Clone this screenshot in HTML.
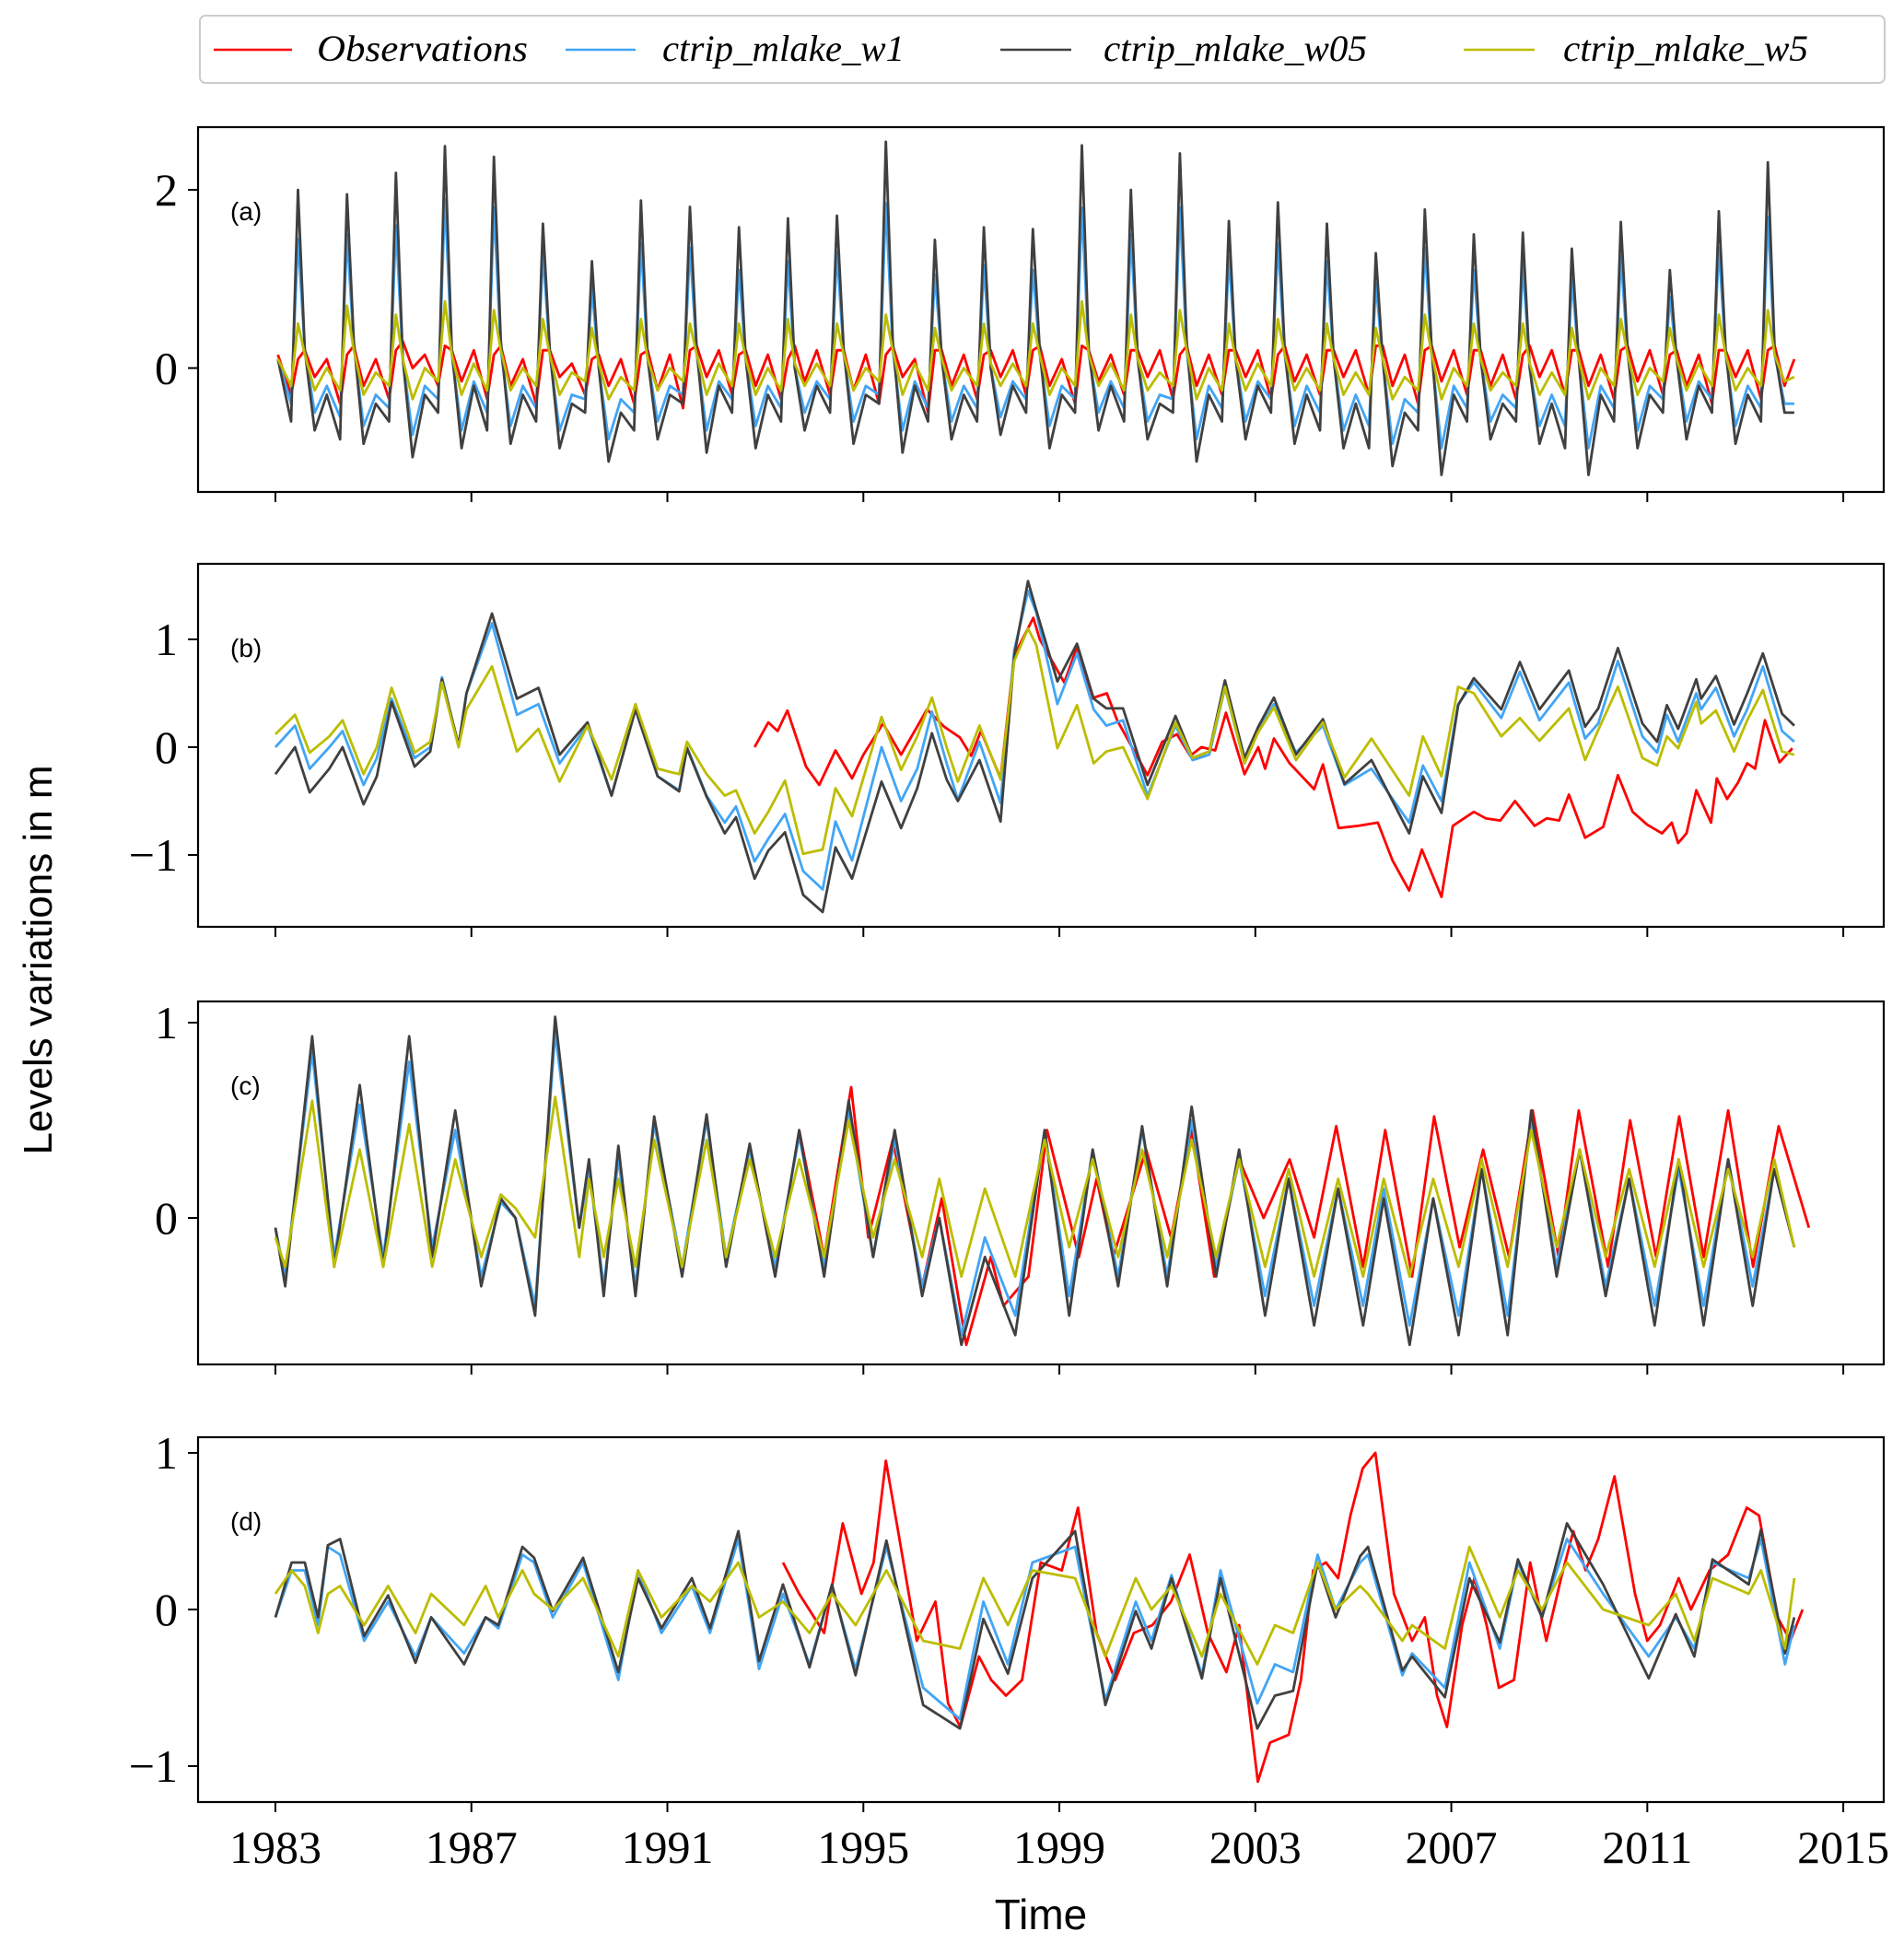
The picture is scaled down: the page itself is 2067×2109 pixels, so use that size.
<!DOCTYPE html>
<html><head><meta charset="utf-8"><style>
html,body{margin:0;padding:0;background:#fff}
svg{display:block}
.tk{font-family:"Liberation Serif",serif;font-size:50px;fill:#000}
.lg{font-family:"Liberation Serif",serif;font-style:italic;font-size:40px;fill:#000}
</style></head><body>
<svg id="chart" width="2067" height="2109" viewBox="0 0 2067 2109" xmlns="http://www.w3.org/2000/svg">
<rect x="0" y="0" width="2067" height="2109" fill="#fff"/>
<g id="legend">
<rect x="217" y="17" width="1829" height="73" rx="6" fill="#fff" stroke="#cccccc" stroke-width="2"/>
<g><line x1="232" y1="54" x2="317" y2="54" stroke="#ff0000" stroke-width="2.6"/><text class="lg" x="344" y="66" textLength="229" lengthAdjust="spacingAndGlyphs">Observations</text></g>
<g><line x1="614" y1="54" x2="690" y2="54" stroke="#42a5f5" stroke-width="2.6"/><text class="lg" x="719" y="66" textLength="263" lengthAdjust="spacingAndGlyphs">ctrip_mlake_w1</text></g>
<g><line x1="1086" y1="54" x2="1163" y2="54" stroke="#404040" stroke-width="2.6"/><text class="lg" x="1198" y="66" textLength="286" lengthAdjust="spacingAndGlyphs">ctrip_mlake_w05</text></g>
<g><line x1="1589" y1="54" x2="1666" y2="54" stroke="#bcbd00" stroke-width="2.6"/><text class="lg" x="1697" y="66" textLength="266" lengthAdjust="spacingAndGlyphs">ctrip_mlake_w5</text></g>
</g>
<text x="0" y="0" transform="translate(56,1042) rotate(-90)" text-anchor="middle" font-family="Liberation Sans, sans-serif" font-size="44">Levels variations in m</text>
<text x="1130" y="2094" text-anchor="middle" font-family="Liberation Sans, sans-serif" font-size="46">Time</text>
<g id="panels"></g>
</svg>
<script>
// ---------- shared axis ----------
const xTickYears = [1983,1987,1991,1995,1999,2003,2007,2011,2015];
const panelLabels = ["(a)","(b)","(c)","(d)"];

// ---------- panel (a) ----------
const aYears = [1983,1984,1985,1986,1987,1988,1989,1990,1991,1992,1993,1994,1995,1996,1997,1998,1999,2000,2001,2002,2003,2004,2005,2006,2007,2008,2009,2010,2011,2012,2013];
const aOffsets = [0.05,0.32,0.46,0.6,0.8];
const aEndT = 2014.0;
const aW05 = [0.1,-0.6,2.0,0.2,-0.7, -0.3,-0.8,1.95,0.3,-0.85, -0.4,-0.6,2.19,0.1,-1.0, -0.3,-0.5,2.49,0.2,-0.9, -0.2,-0.7,2.37,0.3,-0.85, -0.3,-0.6,1.62,0.2,-0.9, -0.4,-0.5,1.2,0.0,-1.05, -0.5,-0.7,1.88,0.1,-0.8, -0.3,-0.4,1.81,0.2,-0.95, -0.2,-0.5,1.58,0.1,-0.9, -0.3,-0.6,1.68,0.0,-0.7, -0.2,-0.5,1.71,0.2,-0.85, -0.3,-0.4,2.54,0.3,-0.95, -0.2,-0.6,1.44,0.1,-0.8, -0.3,-0.6,1.58,0.0,-0.75, -0.2,-0.5,1.56,0.2,-0.9, -0.3,-0.5,2.5,0.2,-0.7, -0.2,-0.6,2.0,0.1,-0.8, -0.4,-0.5,2.41,0.3,-1.05, -0.3,-0.6,1.65,0.1,-0.8, -0.2,-0.5,1.86,0.2,-0.85, -0.3,-0.7,1.62,0.1,-0.9, -0.4,-0.9,1.29,0.1,-1.1, -0.5,-0.7,1.78,0.2,-1.2, -0.3,-0.6,1.5,0.1,-0.8, -0.4,-0.6,1.52,0.0,-0.85, -0.4,-0.9,1.34,0.1,-1.2, -0.3,-0.6,1.64,0.2,-0.9, -0.3,-0.5,1.1,0.1,-0.8, -0.2,-0.5,1.76,0.2,-0.85, -0.3,-0.6,2.31,0.2,-0.5, -0.5];
const aW1 = [0.1,-0.4,1.45,0.2,-0.5, -0.2,-0.55,1.5,0.25,-0.65, -0.3,-0.45,1.6,0.1,-0.75, -0.2,-0.35,1.9,0.15,-0.7, -0.15,-0.5,1.8,0.2,-0.65, -0.2,-0.45,1.3,0.15,-0.7, -0.3,-0.35,0.9,0.0,-0.8, -0.35,-0.5,1.4,0.1,-0.6, -0.2,-0.3,1.35,0.15,-0.7, -0.15,-0.35,1.1,0.1,-0.65, -0.2,-0.45,1.2,0.0,-0.5, -0.15,-0.35,1.3,0.15,-0.6, -0.2,-0.3,1.85,0.2,-0.7, -0.15,-0.45,1.05,0.1,-0.6, -0.2,-0.45,1.15,0.0,-0.55, -0.15,-0.35,1.1,0.15,-0.65, -0.2,-0.35,1.8,0.15,-0.5, -0.15,-0.45,1.5,0.1,-0.6, -0.3,-0.35,1.8,0.2,-0.8, -0.2,-0.45,1.25,0.1,-0.6, -0.15,-0.35,1.4,0.15,-0.65, -0.2,-0.5,1.2,0.1,-0.7, -0.3,-0.65,0.95,0.1,-0.85, -0.35,-0.5,1.35,0.15,-0.9, -0.2,-0.45,1.1,0.1,-0.6, -0.3,-0.45,1.15,0.0,-0.65, -0.3,-0.65,1.0,0.1,-0.9, -0.2,-0.45,1.25,0.15,-0.7, -0.2,-0.35,0.8,0.1,-0.6, -0.15,-0.35,1.35,0.15,-0.65, -0.2,-0.45,1.7,0.15,-0.4, -0.4];
const aW5 = [0.1,-0.2,0.5,0.15,-0.25, 0.0,-0.25,0.7,0.2,-0.3, -0.05,-0.2,0.6,0.1,-0.35, 0.0,-0.15,0.75,0.15,-0.3, 0.05,-0.25,0.65,0.2,-0.25, 0.0,-0.2,0.55,0.15,-0.3, -0.05,-0.15,0.45,0.05,-0.35, -0.1,-0.25,0.55,0.1,-0.25, 0.0,-0.15,0.5,0.15,-0.3, 0.05,-0.2,0.5,0.1,-0.3, 0.0,-0.25,0.55,0.05,-0.2, 0.05,-0.2,0.5,0.15,-0.25, 0.0,-0.15,0.6,0.2,-0.3, 0.05,-0.25,0.45,0.1,-0.25, 0.0,-0.2,0.5,0.05,-0.2, 0.05,-0.2,0.5,0.15,-0.3, 0.0,-0.2,0.75,0.15,-0.2, 0.05,-0.25,0.6,0.1,-0.25, -0.05,-0.2,0.65,0.2,-0.35, 0.0,-0.25,0.5,0.1,-0.25, 0.05,-0.2,0.55,0.15,-0.25, 0.0,-0.25,0.5,0.1,-0.3, -0.05,-0.3,0.45,0.1,-0.35, -0.1,-0.25,0.6,0.15,-0.35, 0.0,-0.2,0.5,0.1,-0.25, -0.05,-0.2,0.5,0.05,-0.3, -0.05,-0.3,0.45,0.1,-0.35, 0.0,-0.2,0.55,0.15,-0.3, 0.0,-0.15,0.45,0.1,-0.25, 0.05,-0.2,0.6,0.15,-0.25, 0.0,-0.2,0.65,0.15,-0.15, -0.1];
const aObs = [0.15,-0.3,0.1,0.2,-0.1, 0.1,-0.4,0.15,0.25,-0.2, 0.1,-0.35,0.2,0.3,0.0, 0.15,-0.2,0.25,0.2,-0.15, 0.2,-0.35,0.15,0.25,-0.2, 0.1,-0.4,0.2,0.2,-0.1, 0.05,-0.3,0.1,0.15,-0.2, 0.1,-0.4,0.15,0.2,-0.25, 0.15,-0.45,0.2,0.25,-0.1, 0.2,-0.3,0.15,0.2,-0.2, 0.15,-0.35,0.1,0.25,-0.15, 0.2,-0.3,0.2,0.2,-0.25, 0.15,-0.4,0.15,0.25,-0.1, 0.1,-0.5,0.2,0.2,-0.2, 0.15,-0.35,0.15,0.2,-0.1, 0.2,-0.3,0.2,0.25,-0.2, 0.1,-0.4,0.25,0.2,-0.15, 0.15,-0.3,0.2,0.2,-0.1, 0.2,-0.35,0.15,0.25,-0.2, 0.15,-0.3,0.2,0.2,-0.1, 0.2,-0.35,0.15,0.25,-0.15, 0.15,-0.3,0.2,0.2,-0.1, 0.2,-0.3,0.25,0.25,-0.2, 0.15,-0.4,0.2,0.25,-0.15, 0.2,-0.3,0.2,0.2,-0.2, 0.15,-0.35,0.15,0.25,-0.1, 0.2,-0.3,0.2,0.2,-0.2, 0.15,-0.35,0.2,0.25,-0.15, 0.2,-0.3,0.15,0.2,-0.2, 0.15,-0.4,0.2,0.2,-0.1, 0.2,-0.35,0.2,0.25,-0.2, 0.1];
const aT = [];
aYears.forEach(y => aOffsets.forEach(o => aT.push(y + o)));
aT.push(aEndT);

// ---------- panel (b) ----------
const bT = [1983.0,1983.4,1983.7,1984.1,1984.37,1984.8,1985.07,1985.37,1985.84,1986.16,1986.4,1986.74,1986.9,1987.42,1987.93,1988.37,1988.8,1989.37,1989.86,1990.35,1990.8,1991.24,1991.4,1991.8,1992.17,1992.4,1992.78,1993.06,1993.4,1993.77,1994.17,1994.43,1994.77,1995.37,1995.77,1996.1,1996.4,1996.7,1996.93,1997.37,1997.8,1998.08,1998.36,1998.53,1998.96,1999.36,1999.7,1999.96,2000.3,2000.8,2001.37,2001.72,2002.06,2002.38,2002.78,2003.06,2003.38,2003.83,2004.38,2004.82,2005.37,2006.14,2006.42,2006.8,2007.14,2007.46,2008.02,2008.4,2008.8,2009.4,2009.73,2010.0,2010.4,2010.9,2011.2,2011.4,2011.63,2012.0,2012.1,2012.4,2012.77,2013.04,2013.36,2013.75,2014.0];
const bW05 = [-0.25,0.0,-0.42,-0.2,0.0,-0.53,-0.27,0.42,-0.18,-0.04,0.63,0.02,0.5,1.24,0.45,0.55,-0.07,0.23,-0.45,0.35,-0.27,-0.41,-0.01,-0.46,-0.8,-0.65,-1.22,-0.96,-0.79,-1.37,-1.53,-0.93,-1.22,-0.32,-0.75,-0.38,0.13,-0.3,-0.5,-0.12,-0.69,0.85,1.54,1.27,0.61,0.96,0.45,0.36,0.36,-0.35,0.29,-0.1,-0.04,0.62,-0.1,0.19,0.46,-0.07,0.26,-0.34,-0.12,-0.8,-0.27,-0.61,0.39,0.64,0.35,0.79,0.35,0.71,0.19,0.36,0.92,0.22,0.05,0.39,0.17,0.63,0.45,0.66,0.21,0.5,0.87,0.31,0.2];
const bW1 = [0.0,0.2,-0.2,0.0,0.15,-0.35,-0.1,0.45,-0.1,0.0,0.65,0.0,0.5,1.15,0.3,0.4,-0.15,0.2,-0.45,0.35,-0.27,-0.4,0.0,-0.45,-0.7,-0.55,-1.06,-0.85,-0.62,-1.15,-1.32,-0.69,-1.05,0.0,-0.5,-0.2,0.33,-0.15,-0.49,0.05,-0.52,0.9,1.45,1.25,0.4,0.87,0.35,0.2,0.25,-0.45,0.2,-0.12,-0.07,0.55,-0.15,0.15,0.4,-0.05,0.2,-0.35,-0.2,-0.7,-0.17,-0.5,0.4,0.6,0.27,0.7,0.25,0.6,0.08,0.22,0.8,0.1,-0.05,0.3,0.05,0.5,0.35,0.55,0.1,0.35,0.75,0.15,0.05];
const bW5 = [0.12,0.3,-0.05,0.1,0.25,-0.25,0.0,0.55,-0.05,0.05,0.6,0.0,0.35,0.75,-0.04,0.17,-0.32,0.2,-0.3,0.4,-0.2,-0.25,0.05,-0.25,-0.45,-0.4,-0.8,-0.6,-0.31,-0.99,-0.95,-0.38,-0.64,0.28,-0.21,0.1,0.46,0.0,-0.32,0.2,-0.3,0.8,1.1,0.95,-0.01,0.39,-0.15,-0.04,0.0,-0.48,0.23,-0.1,-0.04,0.56,-0.15,0.14,0.37,-0.12,0.23,-0.28,0.08,-0.45,0.1,-0.27,0.56,0.5,0.1,0.27,0.06,0.36,-0.12,0.16,0.56,-0.1,-0.17,0.1,-0.01,0.42,0.22,0.34,-0.04,0.25,0.53,-0.04,-0.07];
const bObsT = [1992.78,1993.06,1993.25,1993.45,1993.83,1994.1,1994.43,1994.77,1995.0,1995.4,1995.77,1996.3,1996.65,1996.97,1997.2,1997.4,1997.8,1998.08,1998.47,1998.6,1999.1,1999.36,1999.64,1999.97,2000.18,2000.8,2001.1,2001.4,2001.67,2001.9,2002.18,2002.4,2002.78,2003.06,2003.2,2003.38,2003.7,2003.95,2004.2,2004.38,2004.7,2005.1,2005.5,2005.8,2006.14,2006.4,2006.8,2007.03,2007.46,2007.7,2008.0,2008.3,2008.7,2008.95,2009.2,2009.4,2009.73,2010.1,2010.4,2010.7,2011.0,2011.3,2011.5,2011.63,2011.8,2012.0,2012.3,2012.42,2012.63,2012.85,2013.04,2013.2,2013.4,2013.7,2013.96];
const bObs = [0.0,0.23,0.15,0.34,-0.18,-0.35,-0.03,-0.29,-0.07,0.22,-0.07,0.35,0.19,0.09,-0.08,0.15,-0.29,0.85,1.2,1.0,0.6,0.93,0.45,0.5,0.25,-0.26,0.05,0.12,-0.08,0.0,-0.03,0.32,-0.25,0.0,-0.2,0.08,-0.15,-0.27,-0.39,-0.16,-0.75,-0.73,-0.7,-1.05,-1.33,-0.95,-1.39,-0.73,-0.6,-0.66,-0.68,-0.5,-0.73,-0.66,-0.68,-0.44,-0.84,-0.74,-0.26,-0.6,-0.72,-0.8,-0.7,-0.89,-0.8,-0.4,-0.7,-0.29,-0.48,-0.33,-0.15,-0.2,0.25,-0.14,-0.01];

// ---------- panel (c) ----------
const cT = [1983.0,1983.2,1983.75,1984.2,1984.72,1985.2,1985.73,1986.2,1986.67,1987.2,1987.6,1987.9,1988.3,1988.71,1989.2,1989.4,1989.7,1990.0,1990.35,1990.73,1991.3,1991.8,1992.2,1992.68,1993.2,1993.69,1994.2,1994.7,1995.2,1995.64,1996.2,1996.55,1997.0,1997.48,1998.1,1998.7,1999.2,1999.68,2000.2,2000.69,2001.2,2001.7,2002.2,2002.67,2003.2,2003.68,2004.2,2004.69,2005.2,2005.62,2006.15,2006.63,2007.15,2007.62,2008.15,2008.63,2009.15,2009.62,2010.15,2010.63,2011.15,2011.64,2012.15,2012.65,2013.15,2013.59,2014.0];
const cW05 = [-0.05,-0.35,0.93,-0.25,0.68,-0.25,0.93,-0.2,0.55,-0.35,0.1,0.0,-0.5,1.03,-0.05,0.3,-0.4,0.37,-0.4,0.52,-0.3,0.53,-0.25,0.38,-0.3,0.45,-0.3,0.6,-0.2,0.45,-0.4,0.0,-0.65,-0.2,-0.6,0.45,-0.5,0.35,-0.35,0.47,-0.35,0.57,-0.3,0.35,-0.5,0.2,-0.55,0.15,-0.55,0.1,-0.65,0.1,-0.6,0.25,-0.6,0.55,-0.3,0.35,-0.4,0.2,-0.55,0.3,-0.55,0.3,-0.45,0.25,-0.15];
const cW1 = [-0.05,-0.3,0.85,-0.2,0.58,-0.2,0.8,-0.15,0.45,-0.3,0.08,0.0,-0.45,0.95,-0.05,0.25,-0.35,0.3,-0.35,0.48,-0.25,0.5,-0.2,0.35,-0.25,0.42,-0.25,0.55,-0.2,0.4,-0.35,0.0,-0.6,-0.1,-0.5,0.45,-0.4,0.35,-0.3,0.45,-0.3,0.5,-0.25,0.3,-0.4,0.2,-0.45,0.15,-0.45,0.15,-0.55,0.1,-0.5,0.25,-0.5,0.5,-0.25,0.35,-0.35,0.2,-0.45,0.25,-0.45,0.3,-0.35,0.25,-0.15];
const cW5 = [-0.1,-0.25,0.6,-0.25,0.35,-0.25,0.48,-0.25,0.3,-0.2,0.12,0.05,-0.1,0.62,-0.2,0.2,-0.2,0.2,-0.25,0.4,-0.25,0.4,-0.2,0.3,-0.2,0.3,-0.2,0.5,-0.1,0.3,-0.2,0.2,-0.3,0.15,-0.3,0.4,-0.15,0.3,-0.2,0.35,-0.2,0.4,-0.2,0.3,-0.25,0.25,-0.3,0.2,-0.3,0.2,-0.3,0.2,-0.25,0.3,-0.25,0.45,-0.15,0.35,-0.2,0.25,-0.25,0.3,-0.25,0.25,-0.2,0.3,-0.15];
const cObsT = [1993.69,1994.2,1994.75,1995.1,1995.6,1996.2,1996.6,1997.1,1997.6,1997.86,1998.37,1998.75,1999.4,1999.76,2000.1,2000.77,2001.28,2001.7,2002.16,2002.67,2003.17,2003.7,2004.2,2004.65,2005.2,2005.65,2006.2,2006.65,2007.17,2007.65,2008.18,2008.66,2009.19,2009.6,2010.2,2010.65,2011.18,2011.65,2012.15,2012.65,2013.16,2013.68,2014.3];
const cObs = [0.45,-0.2,0.67,-0.1,0.4,-0.35,0.1,-0.65,-0.2,-0.45,-0.3,0.45,-0.2,0.2,-0.2,0.35,-0.1,0.45,-0.3,0.3,0.0,0.3,-0.1,0.47,-0.25,0.45,-0.3,0.52,-0.15,0.35,-0.2,0.55,-0.2,0.55,-0.25,0.5,-0.2,0.52,-0.2,0.55,-0.25,0.47,-0.05];

// ---------- panel (d) ----------
const dT = [1983.0,1983.33,1983.6,1983.87,1984.07,1984.32,1984.81,1985.3,1985.86,1986.18,1986.85,1987.29,1987.55,1988.04,1988.28,1988.66,1989.28,1990.0,1990.4,1990.88,1991.5,1991.87,1992.45,1992.87,1993.36,1993.9,1994.36,1994.84,1995.47,1996.22,1996.97,1997.45,1997.95,1998.45,1999.32,1999.94,2000.56,2000.88,2001.29,2001.91,2002.29,2003.04,2003.4,2003.77,2004.27,2004.64,2005.14,2005.3,2006.0,2006.2,2006.87,2007.37,2007.99,2008.36,2008.85,2009.36,2010.1,2011.03,2011.58,2011.96,2012.33,2013.07,2013.32,2013.81,2014.0];
const dW05 = [-0.05,0.3,0.3,-0.05,0.41,0.45,-0.17,0.09,-0.34,-0.05,-0.35,-0.05,-0.1,0.4,0.33,-0.01,0.33,-0.4,0.2,-0.12,0.2,-0.12,0.5,-0.33,0.16,-0.37,0.16,-0.42,0.44,-0.61,-0.76,-0.06,-0.41,0.2,0.5,-0.61,-0.01,-0.25,0.2,-0.44,0.2,-0.76,-0.55,-0.52,0.3,-0.05,0.34,0.4,-0.39,-0.3,-0.56,0.2,-0.21,0.32,-0.05,0.55,0.16,-0.44,-0.03,-0.3,0.32,0.16,0.51,-0.28,-0.05];
const dW1 = [-0.05,0.25,0.25,-0.1,0.4,0.35,-0.2,0.05,-0.3,-0.05,-0.28,-0.05,-0.12,0.35,0.3,-0.05,0.3,-0.45,0.25,-0.15,0.15,-0.15,0.45,-0.38,0.1,-0.35,0.15,-0.38,0.4,-0.5,-0.7,0.05,-0.35,0.3,0.4,-0.58,0.05,-0.2,0.22,-0.42,0.25,-0.6,-0.35,-0.4,0.35,0.0,0.3,0.35,-0.42,-0.28,-0.5,0.3,-0.25,0.3,-0.05,0.45,0.1,-0.3,-0.05,-0.25,0.3,0.2,0.45,-0.35,-0.1];
const dW5 = [0.1,0.25,0.15,-0.15,0.1,0.15,-0.1,0.15,-0.15,0.1,-0.1,0.15,-0.05,0.25,0.1,0.0,0.2,-0.3,0.25,-0.05,0.15,0.05,0.3,-0.05,0.05,-0.15,0.1,-0.1,0.25,-0.2,-0.25,0.2,-0.1,0.25,0.2,-0.3,0.2,0.0,0.15,-0.3,0.1,-0.35,-0.1,-0.15,0.3,0.0,0.15,0.1,-0.2,-0.1,-0.25,0.4,-0.05,0.25,0.0,0.3,0.0,-0.1,0.1,-0.2,0.2,0.1,0.25,-0.25,0.2];
const dObsT = [1993.36,1993.69,1994.2,1994.58,1994.96,1995.21,1995.46,1995.71,1996.09,1996.47,1996.73,1996.98,1997.36,1997.61,1997.91,1998.24,1998.62,1999.05,1999.38,1999.76,2000.14,2000.52,2000.9,2001.28,2001.66,2002.03,2002.41,2002.67,2003.05,2003.3,2003.68,2003.93,2004.18,2004.44,2004.69,2004.94,2005.19,2005.45,2005.83,2006.2,2006.46,2006.71,2006.91,2007.22,2007.47,2007.72,2007.97,2008.28,2008.61,2008.94,2009.24,2009.49,2009.74,2010.0,2010.33,2010.75,2011.0,2011.26,2011.64,2011.89,2012.27,2012.65,2013.03,2013.28,2013.66,2013.92,2014.17];
const dObs = [0.3,0.1,-0.15,0.55,0.1,0.3,0.95,0.5,-0.2,0.05,-0.6,-0.75,-0.3,-0.45,-0.55,-0.45,0.3,0.25,0.65,-0.15,-0.45,-0.15,-0.1,0.05,0.35,-0.15,-0.4,-0.1,-1.1,-0.85,-0.8,-0.45,0.25,0.3,0.2,0.6,0.9,1.0,0.1,-0.2,-0.05,-0.55,-0.75,-0.1,0.2,-0.1,-0.5,-0.45,0.3,-0.2,0.2,0.5,0.25,0.45,0.85,0.1,-0.2,-0.1,0.2,0.0,0.25,0.35,0.65,0.6,-0.05,-0.2,0.0];

// ---------- rendering ----------
const NS = "http://www.w3.org/2000/svg";
const X0 = 215, X1 = 2045;
function xPos(t){ return 299 + (t - 1983) * 53.19; }
const panels = [
  {top:138, bottom:534, zero:399.5, unit:96.7, ticks:[0,2]},
  {top:612, bottom:1006, zero:811, unit:117, ticks:[-1,0,1]},
  {top:1087, bottom:1481, zero:1322, unit:212, ticks:[0,1]},
  {top:1560, bottom:1956, zero:1747, unit:170, ticks:[-1,0,1]}
];
const seriesSets = [
  [[aT,aObs],[aT,aW1],[aT,aW05],[aT,aW5]],
  [[bObsT,bObs],[bT,bW1],[bT,bW05],[bT,bW5]],
  [[cObsT,cObs],[cT,cW1],[cT,cW05],[cT,cW5]],
  [[dObsT,dObs],[dT,dW1],[dT,dW05],[dT,dW5]]
];
const colors = ["#ff0000","#42a5f5","#404040","#bcbd00"];
const sNames = ["observations","w1","w05","w5"];
const root = document.getElementById("panels");
const defs = document.createElementNS(NS,"defs");
root.appendChild(defs);

panels.forEach((p, i) => {
  const letter = "abcd"[i];
  const g = document.createElementNS(NS,"g");
  
  
  root.appendChild(g);
  const yPos = v => p.zero - v * p.unit;
  const cp = document.createElementNS(NS,"clipPath");
  cp.setAttribute("id","clip"+i);
  const cr = document.createElementNS(NS,"rect");
  cr.setAttribute("x",X0); cr.setAttribute("y",p.top);
  cr.setAttribute("width",X1-X0); cr.setAttribute("height",p.bottom-p.top);
  cp.appendChild(cr); defs.appendChild(cp);

  const lines = document.createElementNS(NS,"g");
  lines.setAttribute("clip-path","url(#clip"+i+")");
  g.appendChild(lines);
  seriesSets[i].forEach((s, k) => {
    const [ts, vs] = s;
    let d = "";
    for (let j = 0; j < Math.min(ts.length, vs.length); j++) {
      d += (j ? "L" : "M") + xPos(ts[j]).toFixed(1) + "," + yPos(vs[j]).toFixed(1);
    }
    const path = document.createElementNS(NS,"path");
    path.setAttribute("d", d);
    path.setAttribute("fill","none");
    path.setAttribute("stroke", colors[k]);
    path.setAttribute("stroke-width","2.8");
    path.setAttribute("stroke-linejoin","round");
    
    
    lines.appendChild(path);
  });

  const frame = document.createElementNS(NS,"rect");
  frame.setAttribute("x",X0); frame.setAttribute("y",p.top);
  frame.setAttribute("width",X1-X0); frame.setAttribute("height",p.bottom-p.top);
  frame.setAttribute("fill","none"); frame.setAttribute("stroke","#000"); frame.setAttribute("stroke-width","2.2");
  
  
  g.appendChild(frame);

  xTickYears.forEach(yr => {
    const tk = document.createElementNS(NS,"line");
    const x = xPos(yr);
    tk.setAttribute("x1",x); tk.setAttribute("x2",x);
    tk.setAttribute("y1",p.bottom); tk.setAttribute("y2",p.bottom+11);
    tk.setAttribute("stroke","#000"); tk.setAttribute("stroke-width","2");
    
    
    g.appendChild(tk);
    if (i === 3) {
      const tl = document.createElementNS(NS,"text");
      tl.setAttribute("x",x); tl.setAttribute("y",2022);
      tl.setAttribute("text-anchor","middle"); tl.setAttribute("class","tk");
      tl.textContent = String(yr);
      
      
      g.appendChild(tl);
    }
  });

  p.ticks.forEach(v => {
    const y = yPos(v);
    const tk = document.createElementNS(NS,"line");
    tk.setAttribute("x1",X0-11); tk.setAttribute("x2",X0);
    tk.setAttribute("y1",y); tk.setAttribute("y2",y);
    tk.setAttribute("stroke","#000"); tk.setAttribute("stroke-width","2");
    
    
    g.appendChild(tk);
    const tl = document.createElementNS(NS,"text");
    tl.setAttribute("x",193); tl.setAttribute("y",y+17);
    tl.setAttribute("text-anchor","end"); tl.setAttribute("class","tk");
    tl.textContent = v < 0 ? "\u2212" + Math.abs(v) : String(v);
    
    
    g.appendChild(tl);
  });

  const lab = document.createElementNS(NS,"text");
  lab.setAttribute("x",250); lab.setAttribute("y",p.top + 101);
  lab.setAttribute("font-family","Liberation Sans, sans-serif");
  lab.setAttribute("font-size","28");
  lab.textContent = panelLabels[i];
  
  
  g.appendChild(lab);
});
</script>
</body></html>
